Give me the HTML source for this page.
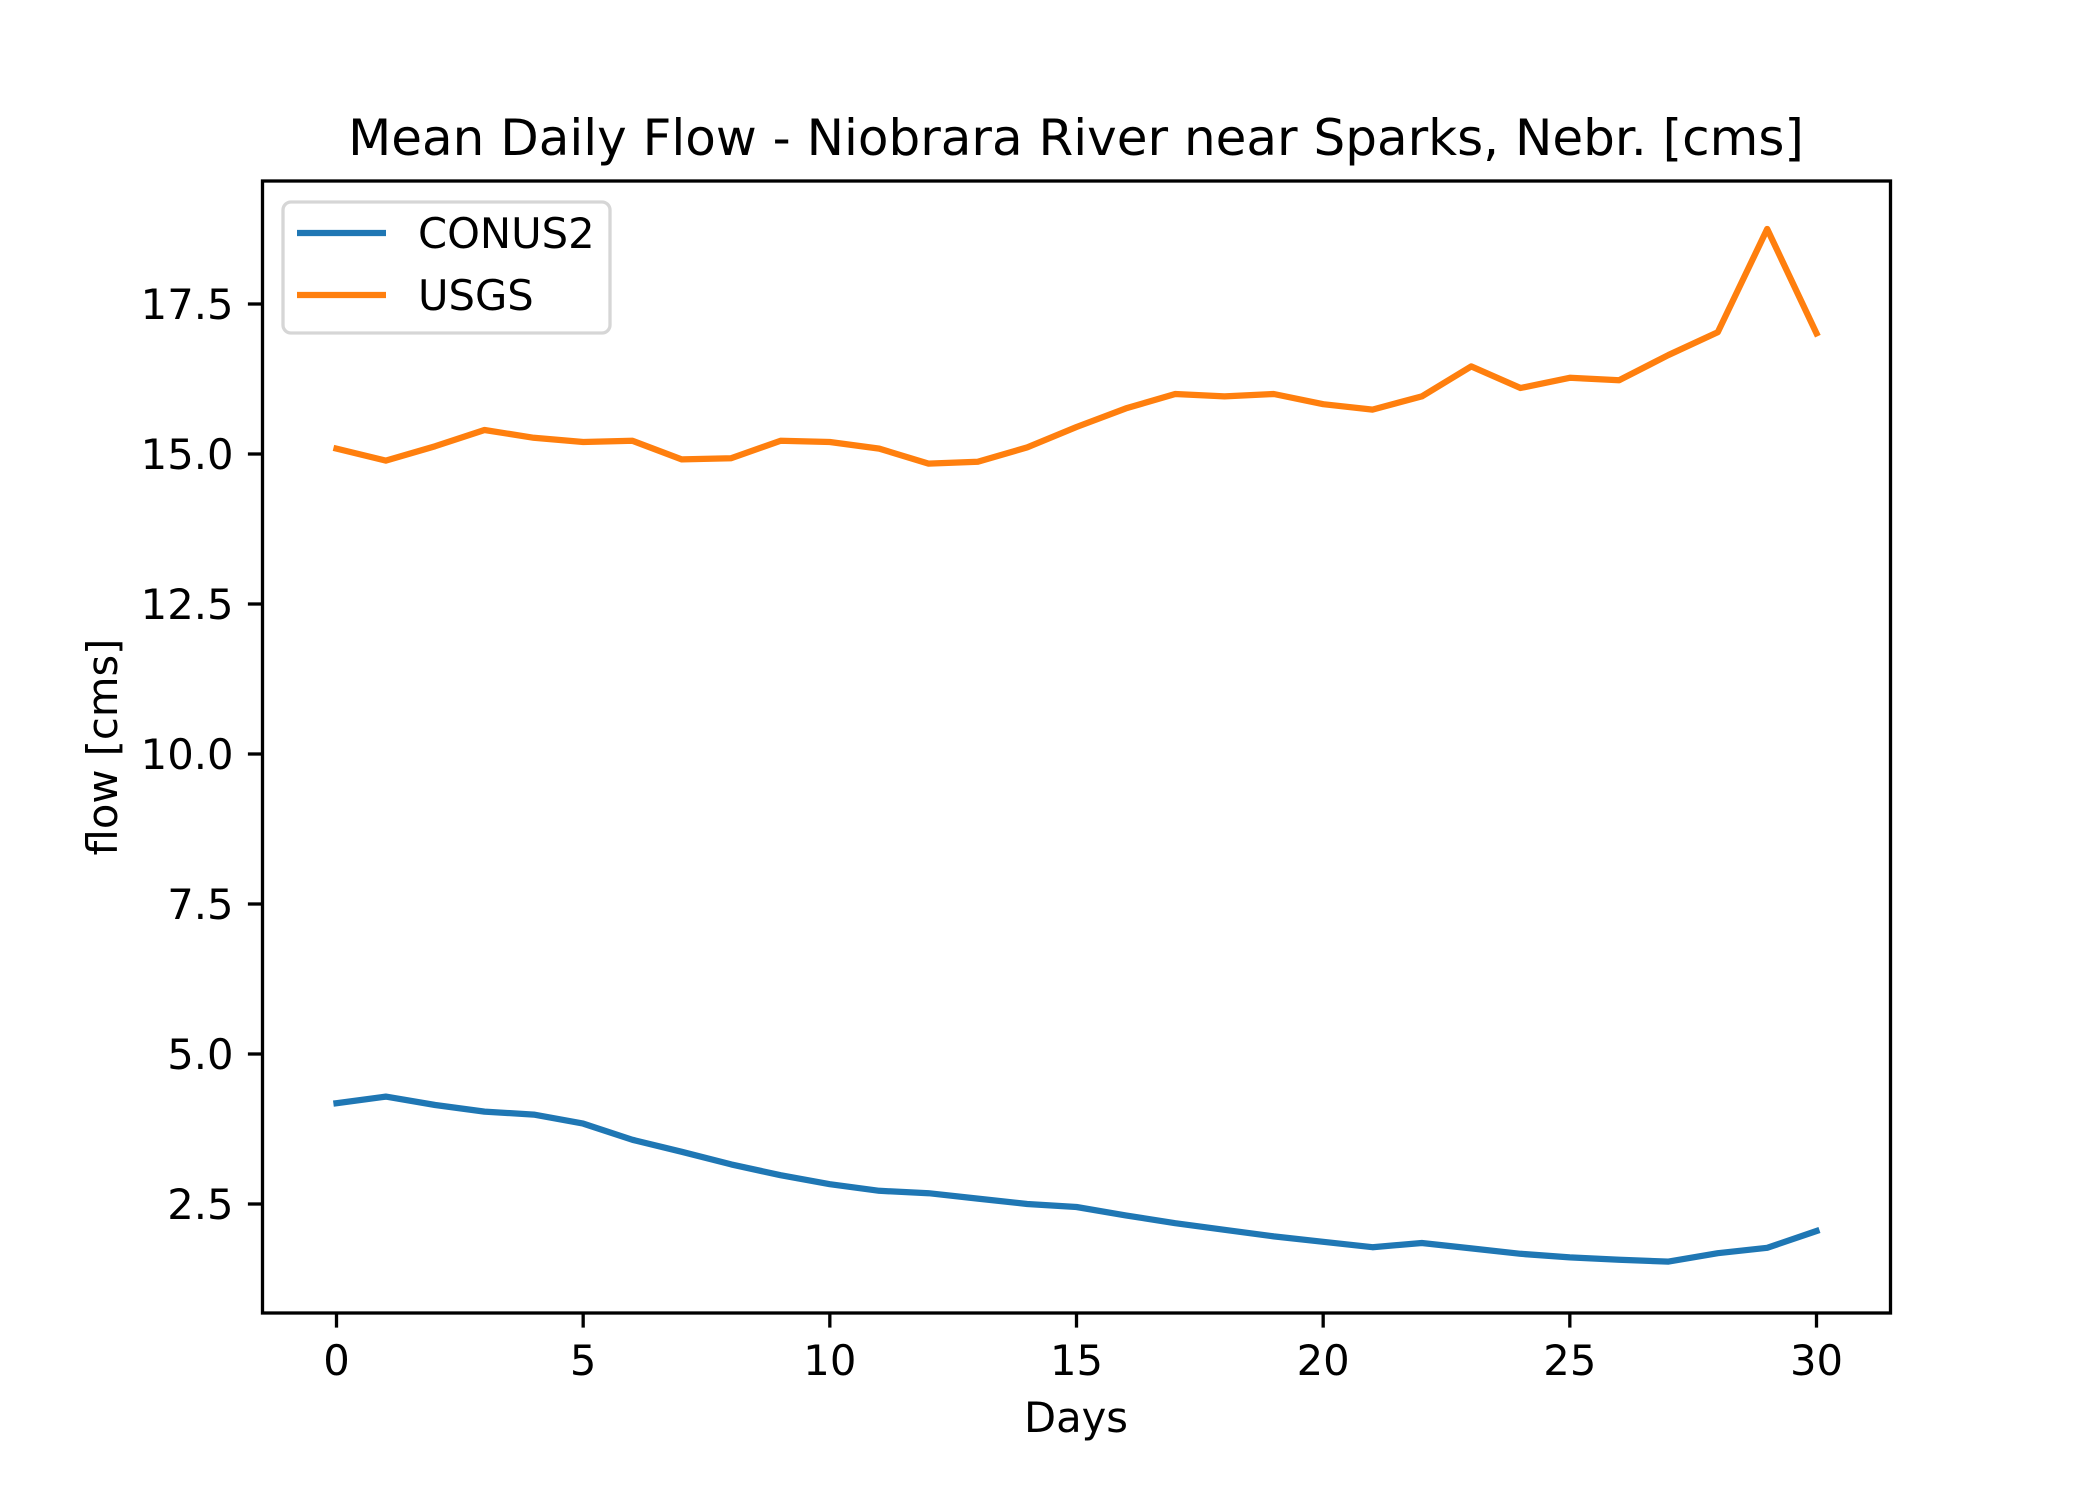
<!DOCTYPE html>
<html><head><meta charset="utf-8"><style>
html,body{margin:0;padding:0;background:#fff;}
svg text{font-family:"DejaVu Sans","Liberation Sans",sans-serif;fill:#000;}
</style></head><body>
<svg id="chart" width="2100" height="1500" viewBox="0 0 2100 1500" xmlns="http://www.w3.org/2000/svg">
<rect width="2100" height="1500" fill="#fff"/>
<text x="1076" y="155" font-size="50" text-anchor="middle">Mean Daily Flow - Niobrara River near Sparks, Nebr. [cms]</text>
<g id="plot"></g>
<rect x="262.5" y="181" width="1628" height="1132" fill="none" stroke="#000" stroke-width="3.3"/>
<g id="xticks"></g>
<g id="yticks"></g>
<text x="1076" y="1432" font-size="41.7" text-anchor="middle">Days</text>
<text transform="translate(117,747) rotate(-90)" font-size="41.7" text-anchor="middle">flow [cms]</text>
<g>
<rect x="283" y="202" width="327" height="131" rx="8" fill="#fff" fill-opacity="0.8" stroke="#d6d6d6" stroke-width="3.3"/>
<line x1="297" y1="233" x2="386" y2="233" stroke="#1f77b4" stroke-width="6.25"/>
<text x="418" y="248" font-size="41.7">CONUS2</text>
<line x1="297" y1="295" x2="386" y2="295" stroke="#ff7f0e" stroke-width="6.25"/>
<text x="418" y="310" font-size="41.7">USGS</text>
</g>
</svg>
<script>
const days = [0,1,2,3,4,5,6,7,8,9,10,11,12,13,14,15,16,17,18,19,20,21,22,23,24,25,26,27,28,29,30];
const conus2 = [4.18,4.29,4.15,4.04,3.99,3.84,3.57,3.37,3.16,2.98,2.83,2.72,2.68,2.59,2.50,2.45,2.31,2.18,2.07,1.96,1.87,1.78,1.85,1.76,1.67,1.61,1.57,1.54,1.68,1.77,2.05];
const usgs = [15.09,14.89,15.13,15.40,15.27,15.20,15.22,14.91,14.93,15.22,15.20,15.09,14.84,14.87,15.11,15.45,15.76,16.00,15.96,16.00,15.83,15.74,15.96,16.46,16.10,16.27,16.23,16.65,17.03,18.75,17.01];
const xTicks = [0,5,10,15,20,25,30];
const yTicks = [2.5,5.0,7.5,10.0,12.5,15.0,17.5];
const yTickLabels = ["2.5","5.0","7.5","10.0","12.5","15.0","17.5"];
const L=262.5,R=1890.5,T=181,B=1313;
const xMin=-1.5,xMax=31.5,yMin=0.6833,yMax=19.55;
function xs(v){return L+(v-xMin)/(xMax-xMin)*(R-L);}
function ys(v){return B-(v-yMin)/(yMax-yMin)*(B-T);}
const NS="http://www.w3.org/2000/svg";
const plot=document.getElementById('plot');
function line(vals,color,name){
  const p=document.createElementNS(NS,'polyline');
  p.setAttribute('points',vals.map((v,i)=>xs(days[i]).toFixed(1)+','+ys(v).toFixed(1)).join(' '));
  p.setAttribute('fill','none');p.setAttribute('stroke',color);p.setAttribute('stroke-width','6.25');
  p.setAttribute('stroke-linejoin','round');p.setAttribute('stroke-linecap','square');
  
  
  plot.appendChild(p);
}
line(conus2,'#1f77b4','conus2-line');
line(usgs,'#ff7f0e','usgs-line');
const xg=document.getElementById('xticks');
xTicks.forEach(t=>{
  const l=document.createElementNS(NS,'line');
  l.setAttribute('x1',xs(t));l.setAttribute('x2',xs(t));l.setAttribute('y1',B);l.setAttribute('y2',B+14.6);
  l.setAttribute('stroke','#000');l.setAttribute('stroke-width','3.3');
  
  
  xg.appendChild(l);
  const tx=document.createElementNS(NS,'text');
  tx.setAttribute('x',xs(t));tx.setAttribute('y',B+62);tx.setAttribute('font-size','41.7');tx.setAttribute('text-anchor','middle');
  tx.textContent=String(t);
  
  
  xg.appendChild(tx);
});
const yg=document.getElementById('yticks');
yTicks.forEach((t,i)=>{
  const l=document.createElementNS(NS,'line');
  l.setAttribute('x1',L-14.6);l.setAttribute('x2',L);l.setAttribute('y1',ys(t));l.setAttribute('y2',ys(t));
  l.setAttribute('stroke','#000');l.setAttribute('stroke-width','3.3');
  
  
  yg.appendChild(l);
  const tx=document.createElementNS(NS,'text');
  tx.setAttribute('x',L-29);tx.setAttribute('y',ys(t)+15);tx.setAttribute('font-size','41.7');tx.setAttribute('text-anchor','end');
  tx.textContent=yTickLabels[i];
  
  
  yg.appendChild(tx);
});
</script>
</body></html>
